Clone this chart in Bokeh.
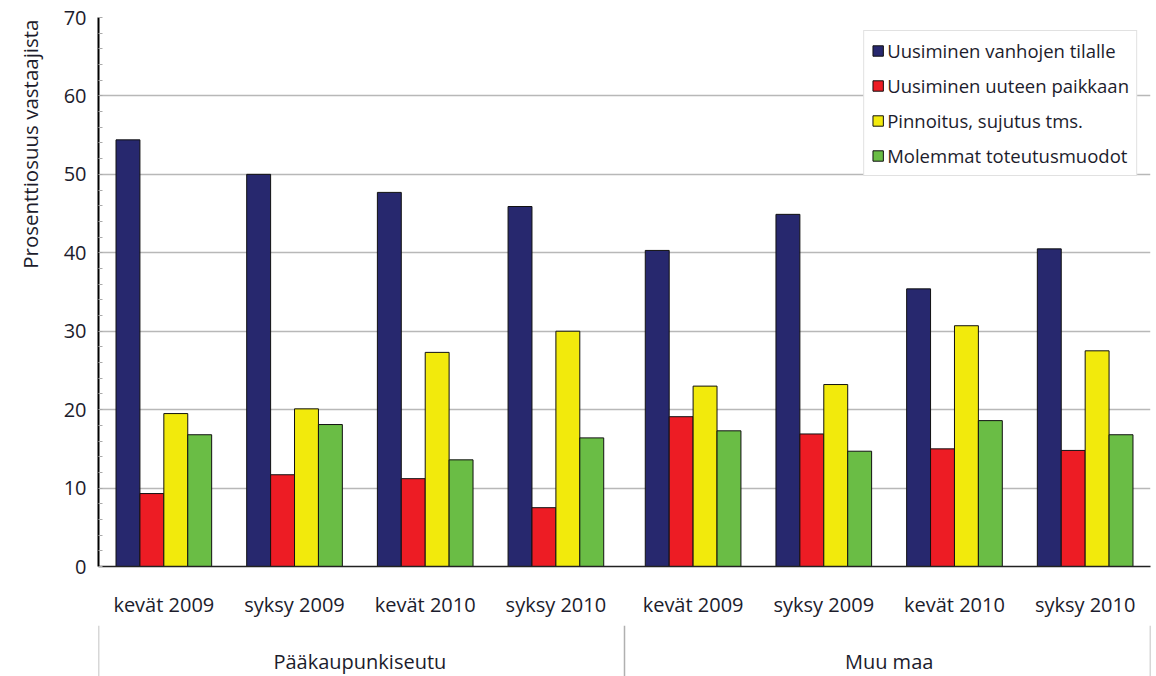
from bokeh.plotting import figure
from bokeh.models import (FactorRange, ColumnDataSource, FixedTicker, Legend,
                          LegendItem, Range1d, Title)
from bokeh.transform import dodge
from bokeh.layouts import column
from bokeh.core.properties import value
from bokeh.embed import file_html
from bokeh.resources import INLINE

# ---------------- data ----------------
regions = ["Pääkaupunkiseutu", "Muu maa"]
periods = ["kevät 2009", "syksy 2009", "kevät 2010", "syksy 2010"]
series_names = ["Uusiminen vanhojen tilalle", "Uusiminen uuteen paikkaan",
                "Pinnoitus, sujutus tms.", "Molemmat toteutusmuodot"]
uusiminen_vanhojen = [54.4, 50.0, 47.7, 45.9, 40.3, 44.9, 35.4, 40.5]
uusiminen_uuteen = [9.3, 11.7, 11.2, 7.5, 19.1, 16.9, 15.0, 14.8]
pinnoitus = [19.5, 20.1, 27.3, 30.0, 23.0, 23.2, 30.7, 27.5]
molemmat = [16.8, 18.1, 13.6, 16.4, 17.3, 14.7, 18.6, 16.8]
y_ticks = [0, 10, 20, 30, 40, 50, 60, 70]
y_minor = [2, 4, 6, 8, 12, 14, 16, 18, 22, 24, 26, 28, 32, 34, 36, 38,
           42, 44, 46, 48, 52, 54, 56, 58, 62, 64, 66, 68]
y_label = "Prosenttiosuus vastaajista"

colors = ["#27286E", "#ED1C24", "#F2EA0C", "#6ABD45"]

FONT = "Open Sans"
TEXT_COLOR = "#1c1c2c"

cats = [(r, p) for r in regions for p in periods]
GP = 0.05
x_range = FactorRange(factors=cats, range_padding=0, group_padding=GP,
                      factor_padding=0)

src = ColumnDataSource(dict(x=cats, s0=uusiminen_vanhojen, s1=uusiminen_uuteen,
                            s2=pinnoitus, s3=molemmat))

p = figure(x_range=x_range, y_range=Range1d(0, 70), width=1156, height=625,
           output_backend="svg", toolbar_location=None,
           min_border_left=97, min_border_right=6, min_border_top=17,
           min_border_bottom=59)
p.outline_line_color = None
p.background_fill_color = "white"
p.border_fill_color = "white"

bw = 0.183
offsets = [-1.5 * bw, -0.5 * bw, 0.5 * bw, 1.5 * bw]
renderers = []
for i, key in enumerate(["s0", "s1", "s2", "s3"]):
    r = p.vbar(x=dodge("x", offsets[i], range=x_range), top=key, width=bw,
               source=src, fill_color=colors[i], line_color="#111111",
               line_width=1)
    renderers.append(r)

# y axis
p.yaxis.ticker = FixedTicker(ticks=y_ticks, minor_ticks=y_minor)
p.yaxis.axis_line_color = "black"
p.yaxis.axis_line_width = 2
p.yaxis.major_tick_in = 4
p.yaxis.major_tick_out = 0
p.yaxis.minor_tick_in = 4
p.yaxis.minor_tick_out = 0
p.yaxis.major_tick_line_color = "#aaaaaa"
p.yaxis.minor_tick_line_color = "#aaaaaa"
p.yaxis.major_label_text_font = FONT
p.yaxis.major_label_text_font_size = "20px"
p.yaxis.major_label_text_color = TEXT_COLOR
p.yaxis.major_label_standoff = 12

# y axis title, placed toward the top like the reference
ytitle = Title(text=y_label, align="right", vertical_align="top",
               text_font=FONT, text_font_size="20.5px",
               text_font_style="normal", text_color=TEXT_COLOR,
               standoff=30, offset=2)
p.add_layout(ytitle, "left")

# grid
p.xgrid.grid_line_color = None
p.ygrid.ticker = FixedTicker(ticks=y_ticks[1:])
p.ygrid.grid_line_color = "#b8b8b8"
p.ygrid.grid_line_width = 1.5

# x axis (period labels only; region labels drawn in the strip below)
p.xaxis.axis_line_color = "#222222"
p.xaxis.axis_line_width = 1.5
p.xaxis.major_tick_line_color = None
p.xaxis.major_tick_out = 0
p.xaxis.major_tick_in = 0
p.xaxis.major_label_text_font = FONT
p.xaxis.major_label_text_font_size = "20px"
p.xaxis.major_label_text_color = TEXT_COLOR
p.xaxis.major_label_standoff = 24
p.xaxis.group_text_font_size = "0px"
p.xaxis.group_text_color = None
p.xaxis.separator_line_color = None
p.xaxis.major_label_orientation = "horizontal"

legend = Legend(items=[LegendItem(label=n, renderers=[r])
                       for n, r in zip(series_names, renderers)],
                location="top_right", margin=13, padding=7, spacing=10,
                label_height=24, glyph_height=13, glyph_width=13,
                label_standoff=3, label_text_font=FONT,
                label_text_font_size="18.5px", label_text_color=TEXT_COLOR,
                border_line_color="#c4c4c4", border_line_width=1.5,
                background_fill_color="white", background_fill_alpha=1)
p.add_layout(legend)

# ---------------- region strip ----------------
p2 = figure(x_range=x_range, y_range=Range1d(0, 1), width=1156, height=51,
            output_backend="svg", toolbar_location=None,
            x_axis_location=None, y_axis_location=None,
            min_border_left=97, min_border_right=6, min_border_top=0,
            min_border_bottom=0)
p2.outline_line_color = None
p2.grid.visible = False
n = len(periods)
seps = [0, n + GP / 2, 2 * n + GP]
p2.segment(x0=seps, y0=[0] * 3, x1=seps, y1=[1] * 3, line_color="#b0b0b0",
           line_width=1.5)
p2.text(x=regions, y=[0.29] * len(regions), text=regions,
        text_font=value(FONT), text_font_size="20px", text_color=TEXT_COLOR,
        text_align="center", text_baseline="middle")

layout = column(p, p2, spacing=0)
open("out.html", "w").write(file_html(layout, INLINE))
